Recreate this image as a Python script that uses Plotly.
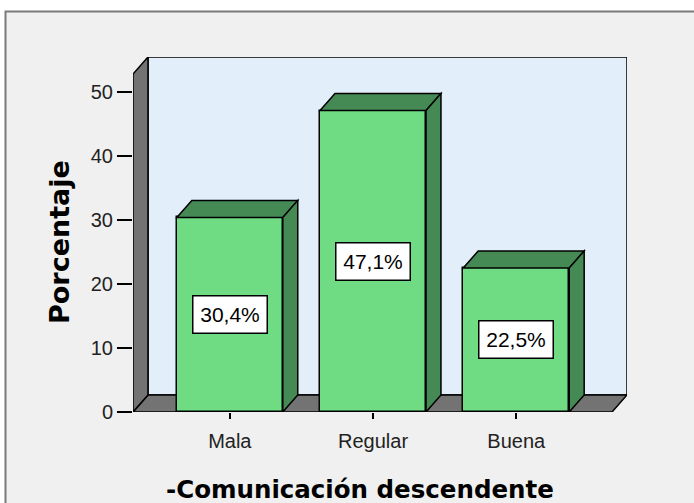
import plotly.graph_objects as go

categories = ["Mala", "Regular", "Buena"]
values = [30.4, 47.1, 22.5]
value_labels = ["30,4%", "47,1%", "22,5%"]
y_ticks = [0, 10, 20, 30, 40, 50]
x_title = "-Comunicación descendente"
y_title = "Porcentaje"

# geometry / style (not data)
BAR_W = 0.74
DX = 0.1045      # depth offset in x data units
DY = 2.66        # depth offset in y data units
X0, X1 = -0.676, 2.669   # front floor extents
Y_TOP = 52.8     # front top of left wall
FRONT = "#6fdc83"
DARK = "#458a55"
GRAY = "#737373"
WALL = "#e2eefa"
BG = "#f0f0f0"
L, W, T, H = 133, 494, 57, 355

xs = list(range(len(categories)))

fig = go.Figure()
fig.add_trace(go.Bar(
    x=xs, y=values, width=BAR_W,
    marker=dict(color=FRONT, line=dict(color="black", width=1.5)),
    hoverinfo="skip", showlegend=False,
))

shapes = []
def px2paper(px, py):
    return (px - L) / W, (T + H - py) / H

# outer frame
fx0, fy0 = px2paper(5.5, 11.5)
fx1, fy1 = px2paper(720, 520)
shapes.append(dict(type="rect", xref="paper", yref="paper", x0=fx0, x1=fx1, y0=fy1, y1=fy0,
                   fillcolor=BG, line=dict(color="#7a7a7a", width=2), layer="below"))
# back wall
shapes.append(dict(type="rect", xref="x", yref="y", x0=X0 + DX, x1=X1 + DX, y0=DY, y1=Y_TOP + DY,
                   fillcolor=WALL, line=dict(color="black", width=1.5), layer="below"))
# floor
shapes.append(dict(type="path", xref="x", yref="y",
                   path=f"M {X0},0 L {X1},0 L {X1+DX},{DY} L {X0+DX},{DY} Z",
                   fillcolor=GRAY, line=dict(color="black", width=1.5), layer="below"))
# left wall
shapes.append(dict(type="path", xref="x", yref="y",
                   path=f"M {X0},0 L {X0},{Y_TOP} L {X0+DX},{Y_TOP+DY} L {X0+DX},{DY} Z",
                   fillcolor=GRAY, line=dict(color="black", width=1.5), layer="below"))
# bar tops and sides
for x, v in zip(xs, values):
    a, b = x - BAR_W / 2, x + BAR_W / 2
    shapes.append(dict(type="path", xref="x", yref="y",
                       path=f"M {a},{v} L {a+DX},{v+DY} L {b+DX},{v+DY} L {b},{v} Z",
                       fillcolor=DARK, line=dict(color="black", width=1.5), layer="above"))
    shapes.append(dict(type="path", xref="x", yref="y",
                       path=f"M {b},0 L {b+DX},{DY} L {b+DX},{v+DY} L {b},{v} Z",
                       fillcolor=DARK, line=dict(color="black", width=1.5), layer="above"))

annotations = []
for x, v, t in zip(xs, values, value_labels):
    annotations.append(dict(x=x, y=v / 2, xref="x", yref="y", text=t, showarrow=False,
                            font=dict(family="Liberation Sans, Arial", size=21, color="black"),
                            bgcolor="white", bordercolor="black", borderwidth=1.5,
                            width=71, height=34, borderpad=1))

tx, ty = px2paper(360, 489)
annotations.append(dict(x=tx, y=ty, xref="paper", yref="paper", text=f"<b>{x_title}</b>",
                        showarrow=False, font=dict(family="DejaVu Sans", size=24.5, color="black"),
                        xanchor="center", yanchor="middle"))
tx, ty = px2paper(59.5, 242.5)
annotations.append(dict(x=tx, y=ty, xref="paper", yref="paper", text=f"<b>{y_title}</b>",
                        showarrow=False, textangle=-90,
                        font=dict(family="DejaVu Sans", size=27, color="black"),
                        xanchor="center", yanchor="middle"))

fig.update_layout(
    width=694, height=503,
    margin=dict(l=L, r=694 - L - W, t=T, b=503 - T - H),
    paper_bgcolor="white", plot_bgcolor="rgba(0,0,0,0)",
    shapes=shapes, annotations=annotations,
    xaxis=dict(range=[X0, X1 + DX], tickvals=xs, ticktext=categories, ticks="outside",
               ticklen=6, tickwidth=1.5, tickcolor="black", showgrid=False, zeroline=False,
               showline=False, ticklabelstandoff=5,
               tickfont=dict(family="Liberation Sans, Arial", size=20, color="#222")),
    yaxis=dict(range=[0, Y_TOP + DY], tickvals=y_ticks, ticks="outside", ticklen=15,
               tickwidth=1.5, tickcolor="black", showgrid=False, zeroline=False, showline=False,
               tickfont=dict(family="Liberation Sans, Arial", size=20, color="#222")),
    bargap=0,
)
fig.write_html("out.html", config={"displayModeBar": False},
               post_script="document.body.style.margin='0px';document.body.style.overflow='hidden';")
